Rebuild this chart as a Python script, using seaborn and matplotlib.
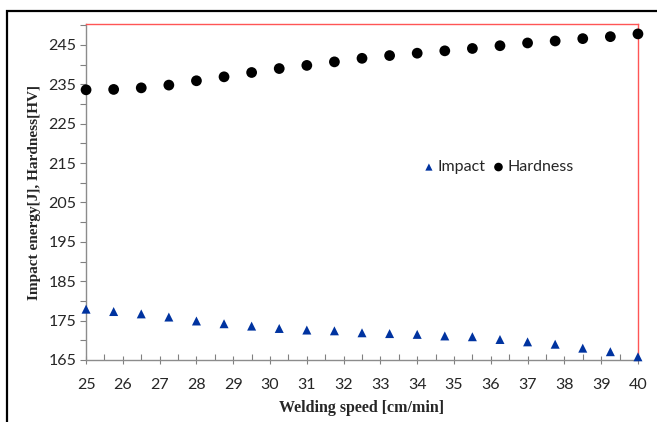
import matplotlib
matplotlib.use("Agg")
from matplotlib import pyplot as plt
from matplotlib.patches import Rectangle
from matplotlib.ticker import MultipleLocator
import pandas as pd
import seaborn as sns

# welding speed, 21 points from 25 to 40 cm/min
speed = [25.0, 25.75, 26.5, 27.25, 28.0, 28.75, 29.5, 30.25, 31.0, 31.75, 32.5,
         33.25, 34.0, 34.75, 35.5, 36.25, 37.0, 37.75, 38.5, 39.25, 40.0]
hardness = [233.6, 233.7, 234.1, 234.8, 235.9, 236.9, 238.0, 239.0, 239.8, 240.7, 241.6,
            242.3, 242.9, 243.5, 244.1, 244.8, 245.5, 246.0, 246.6, 247.1, 247.8]
impact = [177.9, 177.3, 176.7, 175.9, 174.9, 174.2, 173.6, 173.0, 172.6, 172.4, 171.9,
          171.7, 171.5, 171.1, 170.9, 170.2, 169.6, 169.0, 168.0, 167.1, 165.8]
y_ticks = [165, 175, 185, 195, 205, 215, 225, 235, 245]
x_ticks = list(range(25, 41))

df = pd.DataFrame({'speed': speed, 'Impact': impact, 'Hardness': hardness})

sns.set_style("white")
plt.rcParams['font.family'] = ['Lato', 'DejaVu Sans']

fig = plt.figure(figsize=(6.57, 4.22), dpi=100)
ax = fig.add_axes([0.131, 0.147, 0.84, 0.796])

sns.scatterplot(data=df, x='speed', y='Impact', ax=ax, marker='^', s=42,
                color='#0033A0', edgecolor='none', label='Impact', clip_on=False, zorder=3)
sns.scatterplot(data=df, x='speed', y='Hardness', ax=ax, marker='o', s=60,
                color='black', edgecolor='none', label='Hardness', clip_on=False, zorder=3)

ax.set_xlim(25, 40)
ax.set_ylim(165, 250.3)
ax.set_xticks(x_ticks)
ax.set_yticks(y_ticks)
ax.xaxis.set_minor_locator(MultipleLocator(0.5))
ax.yaxis.set_minor_locator(MultipleLocator(5))
ax.tick_params(axis='x', which='major', direction='inout', length=6, width=0.8,
               color='#808080', labelsize=11.5, pad=10, bottom=True)
ax.tick_params(axis='x', which='minor', direction='in', length=4, width=0.8,
               color='#808080', bottom=True)
ax.tick_params(axis='y', which='major', direction='out', length=4, width=0.8,
               color='#808080', labelsize=11.5, pad=3, left=True)
ax.tick_params(axis='y', which='minor', direction='out', length=4, width=0.8,
               color='#808080', left=True)

for side in ['left', 'bottom']:
    ax.spines[side].set_color('#8c8c8c')
    ax.spines[side].set_linewidth(1.0)
for side in ['top', 'right']:
    ax.spines[side].set_color('#ff5555')
    ax.spines[side].set_linewidth(1.0)

ax.set_xlabel('Welding speed [cm/min]', family='Liberation Serif', fontweight='bold',
              fontsize=11.5, labelpad=6)
ax.set_ylabel('Impact energy[J], Hardness[HV]', family='Liberation Serif', fontweight='bold',
              fontsize=11, labelpad=5)

ax.legend(loc='center', bbox_to_anchor=(0.745, 0.574), ncol=2, frameon=False,
          handletextpad=0.05, columnspacing=0.3, fontsize=11.5, handlelength=1.0,
          markerscale=0.8)

# outer black frame of the picture
fig.patches.append(Rectangle((7 / 657, -0.05), 1.1, 1 - 11 / 422 + 0.05,
                             transform=fig.transFigure, fill=False,
                             edgecolor='black', linewidth=1.6))

fig.savefig('out.png', dpi=100)
